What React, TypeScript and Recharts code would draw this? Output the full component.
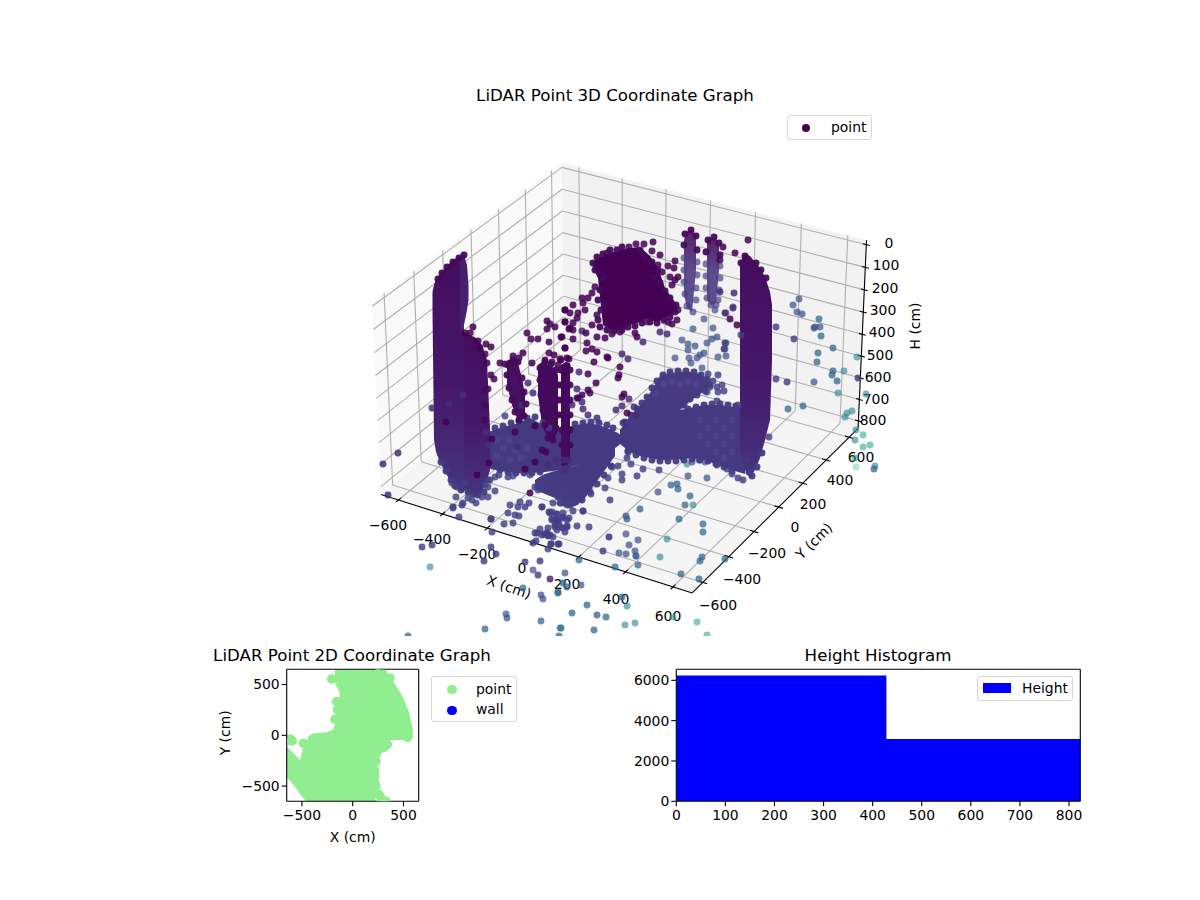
import {
  Area,
  ComposedChart,
  ReferenceDot,
  ReferenceLine,
  Scatter,
  XAxis,
  YAxis,
  ZAxis,
} from "recharts";

const FONT = "'DejaVu Sans', sans-serif";
const TICK = { fill: "#000", fontSize: 13.9 };

// 3D box: limits and ticks of the three axes
const xLim = [-680, 680];
const yLim = [-680, 680];
const hLim = [-20, 835];
const xTicks = [-600, -400, -200, 0, 200, 400, 600];
const yTicks = [-600, -400, -200, 0, 200, 400, 600];
const hTicks = [0, 100, 200, 300, 400, 500, 600, 700, 800];

// tick labels of the 3D axes, as placed on the projected plane
const xLabels: [string, number, number][] = [
  ["−600", 388, 525], ["−400", 432, 539], ["−200", 477, 554], ["0", 522, 568],
  ["200", 567, 584], ["400", 616, 599], ["600", 668, 616],
];
const yLabels: [string, number, number][] = [
  ["−600", 718, 605], ["−400", 742, 579], ["−200", 767, 553], ["0", 795, 527],
  ["200", 813, 504], ["400", 840, 480], ["600", 861, 457],
];
const hLabels: [string, number, number][] = [
  ["0", 889, 243], ["100", 886, 265], ["200", 885, 288], ["300", 883, 310], ["400", 882, 332],
  ["500", 880, 355], ["600", 878, 377], ["700", 876, 399], ["800", 873, 420],
];

// dense clouds on the projected plane: [x, top, bottom]
const wallLeft = [[432.5, 292, 310], [434, 285, 440], [436, 279, 452], [440, 274, 462], [445, 268, 472], [450, 263, 480], [455, 259, 486], [460, 256, 490], [464, 330, 492]];
const wallLeftUpper = [[460, 256, 340], [464, 255, 325], [467, 265, 310], [468.5, 285, 300]];
const columnTwo = [[463, 332, 490], [470, 335, 493], [476, 338, 497], [482, 345, 492], [487, 360, 480], [490, 430, 470]];
const columnThree = [[507, 362, 385], [512, 358, 405], [517, 360, 418], [522, 378, 420], [525, 395, 416]];
const columnFourA = [[538, 365, 395], [542, 362, 425], [548, 365, 440], [554, 368, 440], [558, 375, 430]];
const columnFourB = [[561, 365, 465], [566, 362, 468], [570, 365, 460]];
const bandLeft = [[488, 432, 468], [500, 428, 471], [515, 424, 473], [530, 418, 473], [545, 426, 472], [560, 430, 470], [575, 425, 466], [590, 423, 462], [605, 427, 455], [618, 433, 446], [623, 437, 441]];
const lobeLower = [[535, 480, 490], [545, 474, 494], [555, 471, 498], [565, 468, 502], [575, 466, 506], [585, 462, 498], [595, 456, 484], [605, 450, 470], [615, 444, 456]];
const bandRight = [[620, 430, 444], [630, 416, 452], [640, 406, 456], [650, 393, 458], [660, 376, 460], [670, 373, 460], [680, 372, 459]];
const lobeUpper = [[680, 372, 410], [690, 372, 401], [700, 374, 394], [708, 380, 388]];
const lobeRight = [[680, 410, 460], [690, 408, 458], [705, 405, 460], [720, 405, 466], [735, 407, 471], [745, 408, 474]];
const wallRight = [[740, 262, 450], [745, 254, 470], [750, 256, 478], [755, 262, 470], [760, 268, 458], [765, 277, 440], [770, 292, 420], [772, 305, 360]];
const topCluster = [[593, 262, 268], [598, 258, 278], [603, 255, 325], [610, 253, 330], [620, 250, 330], [630, 248, 325], [640, 247, 322], [650, 256, 320], [658, 268, 322], [665, 288, 318], [672, 298, 314], [677, 305, 310]];
const strandOne = [[684, 240, 295], [687, 232, 308], [692, 230, 312], [696, 235, 270]];
const strandTwo = [[707, 240, 300], [711, 238, 305], [716, 238, 303], [719, 245, 270]];

// single points on the projected plane, one list per colour
const darkPts = [
  [748, 240], [653, 242], [644, 244], [636, 244], [629, 247], [607, 253], [652, 251], [660, 255], [675, 261], [668, 266],
  [674, 268], [658, 265], [662, 272], [670, 277], [678, 277], [675, 280], [672, 285], [595, 287], [592, 293], [588, 298],
  [582, 298], [583, 303], [573, 305], [565, 310], [585, 310], [578, 313], [570, 313], [577, 318], [565, 322], [573, 323],
  [570, 328], [573, 330], [592, 325], [597, 315], [597, 337], [586, 333], [573, 339], [562, 337], [605, 338], [612, 334],
  [620, 332], [635, 333], [637, 337], [678, 310], [677, 320], [672, 324], [668, 322], [587, 343], [586, 351], [592, 349],
  [597, 352], [565, 348], [607, 357], [608, 358], [569, 359], [561, 360], [567, 366], [564, 372], [588, 374], [594, 362],
  [620, 367], [619, 375], [618, 378], [596, 383], [582, 395], [578, 398], [588, 390], [590, 393], [622, 397], [624, 394],
  [627, 413], [730, 319], [735, 253], [723, 247], [720, 260], [737, 325], [473, 327], [465, 333], [470, 333], [478, 341],
  [486, 344], [491, 347], [480, 348], [485, 354], [487, 363], [488, 389], [494, 379], [491, 375], [527, 333], [531, 339],
  [538, 339], [549, 342], [547, 321], [550, 324], [555, 327], [547, 329], [561, 337], [565, 310], [565, 322], [569, 329],
  [565, 348], [523, 353], [513, 356], [519, 358], [500, 363], [505, 364], [510, 363], [532, 363], [545, 360], [549, 353],
  [554, 355], [560, 359], [567, 358], [552, 362], [558, 365], [567, 366], [535, 426], [492, 439], [489, 463], [446, 422],
  [477, 475], [530, 493], [542, 450], [546, 452], [515, 432], [535, 462], [525, 469],
];
// scalloped outlines of the dark clusters
const darkEdge = [
  [593, 263], [597, 257], [603, 254], [610, 250], [617, 250], [622, 247], [595, 270], [603, 278], [600, 290], [598, 300],
  [601, 310], [598, 320], [600, 327], [607, 330], [614, 331], [622, 330], [628, 327], [635, 326], [642, 323], [650, 322],
  [657, 323], [664, 320], [670, 317], [675, 312], [676, 305], [670, 298], [665, 291], [660, 283], [655, 277], [658, 270],
  [652, 262], [645, 257], [640, 250], [464, 255], [459, 258], [453, 262], [447, 267], [442, 273], [438, 279],
  [508, 365], [513, 360], [518, 362], [507, 375], [522, 378], [509, 388], [524, 392], [512, 400], [526, 404], [515, 412],
  [524, 416], [519, 420], [540, 368], [545, 362], [551, 364], [556, 370], [540, 380], [558, 385], [541, 395], [558, 400],
  [543, 410], [558, 415], [545, 425], [556, 428], [548, 438], [553, 440], [561, 370], [570, 370], [561, 385], [570, 385],
  [561, 400], [570, 400], [562, 415], [570, 415], [562, 430], [570, 430], [562, 445], [570, 445], [685, 234], [691, 230],
  [696, 236], [708, 240], [714, 237], [719, 243], [684, 245], [697, 250], [706, 252], [720, 255], [745, 256], [741, 263],
  [756, 263], [761, 270], [766, 278], [485, 390], [485, 405], [485, 420],
];
const purplePts = [
  [643, 342], [660, 332], [667, 334], [628, 359], [622, 354], [579, 372], [647, 322], [582, 331], [577, 389], [577, 398],
  [582, 402], [572, 405], [583, 409], [588, 415], [597, 418], [629, 399], [634, 407], [622, 406], [616, 410], [636, 415],
  [623, 423], [734, 293], [733, 308], [725, 313], [720, 292], [528, 383], [533, 393], [463, 395], [522, 405], [449, 404],
  [432, 408], [398, 453], [383, 464], [388, 495], [517, 447], [555, 460], [548, 465], [565, 470], [609, 537], [550, 579],
  [563, 460], [569, 460], [566, 468], [486, 432], [488, 445],
];
// lighter strand dots, lit by the depth shading
const strandPts = [
  [684, 258], [697, 262], [684, 270], [697, 275], [684, 282], [696, 288], [685, 294], [696, 300], [687, 306], [693, 312],
  [706, 264], [720, 266], [706, 276], [720, 278], [706, 288], [719, 290], [707, 298], [718, 300], [711, 305], [716, 305],
];
const indigoPts = [
  [505, 416], [453, 507], [456, 497], [459, 517], [463, 503], [468, 498], [472, 500], [476, 503], [482, 497], [488, 497],
  [485, 485], [488, 487], [495, 491], [491, 519], [492, 532], [504, 524], [508, 513], [513, 523], [518, 507], [525, 507],
  [520, 502], [510, 505], [535, 487], [540, 481], [543, 479], [452, 483], [457, 487], [465, 483], [490, 480], [495, 477],
  [499, 475], [508, 477], [513, 476], [530, 475], [453, 508], [462, 505], [491, 519], [515, 515], [519, 516], [529, 503],
  [542, 507], [549, 512], [557, 514], [552, 520], [557, 521], [540, 529], [548, 528], [537, 533], [544, 534], [548, 536],
  [536, 541], [533, 543], [551, 544], [548, 549], [558, 544], [491, 547], [496, 554], [484, 561], [422, 547], [432, 545],
  [525, 562], [540, 561], [538, 575], [538, 490], [543, 485], [545, 478], [550, 478], [560, 488], [567, 493], [562, 497],
  [570, 500], [553, 503], [560, 503], [567, 505], [552, 512], [563, 513], [557, 520], [562, 518], [567, 520], [552, 519],
  [560, 527], [555, 527], [567, 527], [557, 530], [542, 507], [548, 535], [535, 533], [542, 535], [547, 533], [565, 532],
  [553, 537], [561, 503], [573, 511], [583, 511], [550, 513], [556, 514], [563, 517], [569, 518], [558, 521], [555, 525],
  [559, 524], [567, 526], [563, 528], [577, 526], [589, 527], [550, 535], [551, 544], [559, 544], [573, 503], [576, 502],
  [570, 501], [628, 452], [627, 458], [631, 464], [618, 466], [643, 469], [659, 470], [612, 467], [622, 474], [622, 480],
  [637, 476], [608, 478], [605, 488], [591, 494], [610, 500], [583, 511], [708, 374], [718, 375], [713, 381], [708, 383],
  [722, 385], [717, 387], [710, 387], [724, 391], [718, 392], [707, 392], [717, 401], [738, 405], [717, 465], [727, 469],
  [732, 474], [738, 478], [743, 480], [769, 437], [725, 343], [724, 349], [741, 335], [776, 327], [776, 379], [787, 382],
  [794, 339], [858, 378], [603, 551],
];
// scalloped outlines of the floor bands
const floorEdge = [
  [495, 428], [503, 426], [511, 423], [519, 421], [527, 418], [535, 417], [543, 423], [549, 428], [575, 424], [583, 423],
  [591, 422], [599, 423], [607, 425], [613, 428], [493, 466], [500, 470], [508, 472], [516, 473], [524, 473], [532, 473],
  [540, 472], [625, 422], [631, 415], [637, 409], [642, 403], [647, 397], [652, 388], [657, 381], [663, 375], [670, 372],
  [678, 371], [686, 371], [694, 372], [701, 375], [707, 379], [710, 385], [705, 391], [697, 395], [690, 399], [684, 405],
  [688, 409], [696, 407], [704, 405], [712, 404], [720, 404], [728, 405], [736, 406], [628, 451], [636, 455], [644, 458],
  [652, 460], [660, 461], [668, 461], [676, 461], [684, 460], [692, 459], [700, 460], [708, 461], [716, 464], [724, 467],
  [732, 471], [565, 503], [558, 497], [570, 505], [582, 500], [590, 492], [597, 484], [604, 475], [611, 466], [441, 462],
  [446, 471], [451, 480], [455, 486], [461, 490], [468, 492], [473, 494], [478, 495], [484, 492], [488, 480], [746, 460],
  [749, 472], [752, 476], [757, 467], [762, 453],
];
// lighter dots that show through the floor bands
const floorGlint = [
  [497, 440], [503, 448], [509, 440], [515, 450], [521, 458], [497, 456], [510, 460], [527, 448], [700, 420], [708, 428],
  [716, 420], [724, 428], [732, 420], [700, 436], [708, 444], [716, 436], [724, 444], [732, 436], [716, 452], [724, 458],
  [732, 452], [664, 384], [672, 382], [680, 384], [688, 382], [696, 384], [656, 394],
];
const bluePts = [
  [704, 319], [693, 329], [713, 328], [715, 310], [726, 313], [733, 307], [682, 340], [688, 344], [695, 346], [707, 343],
  [712, 339], [717, 337], [726, 343], [725, 349], [688, 350], [704, 353], [700, 355], [697, 358], [689, 358], [691, 363],
  [718, 357], [726, 356], [675, 358], [702, 368], [658, 492], [688, 476], [707, 478], [692, 462], [699, 460], [705, 462],
  [799, 299], [793, 305], [797, 312], [802, 314], [814, 382], [815, 327], [814, 328], [820, 327], [533, 570], [507, 618],
  [543, 599], [541, 595], [626, 516], [627, 519], [640, 509], [626, 534], [638, 540], [629, 545], [635, 551], [619, 553],
  [626, 554], [636, 556], [565, 573], [581, 585], [597, 615],
];
const steelPts = [
  [819, 319], [821, 336], [833, 348], [818, 353], [817, 362], [833, 371], [832, 375], [837, 381], [788, 409], [803, 406],
  [690, 496], [677, 484], [671, 485], [678, 489], [685, 505], [679, 519], [703, 524], [703, 532], [638, 565], [615, 567],
  [579, 560], [563, 583], [567, 587], [558, 592], [523, 588], [558, 593], [506, 614], [572, 613], [606, 617], [587, 605],
  [702, 557], [700, 561], [725, 559], [681, 574], [699, 579], [622, 597], [485, 629], [541, 621], [561, 628], [594, 630],
  [874, 469], [408, 636], [559, 636],
];
const tealPts = [
  [857, 357], [844, 371], [838, 393], [866, 394], [852, 411], [847, 413], [845, 417], [856, 430], [855, 440], [693, 505],
  [687, 464], [667, 539], [660, 557], [636, 556], [430, 567], [627, 606], [625, 625], [635, 623], [560, 628], [875, 466],
];
const greenPts = [[863, 435], [870, 445], [863, 447], [855, 458], [673, 617], [697, 622], [707, 635]];
const mintPts = [[856, 467]];

// 2D panel, in cm: [X, lowest Y, highest Y]
const footMain = [[-650, -414, -112], [-568, -506, -190], [-519, -578, -243], [-500, -600, -170], [-486, -621, -112], [-460, -650, -80], [-437, -650, -13], [-388, -650, 20], [-256, -650, 30], [-190, -650, 59], [-158, -650, 190], [-131, -650, 381], [-108, -650, 650], [225, -650, 650]];
const footRight = [[220, -300, 650], [250, -230, 630], [269, -210, 611], [319, -128, 611], [351, -53, 594], [401, -46, 529], [483, -46, 397], [548, -46, 250], [591, -30, 69]];
const footLeft = [[-650, -90, 3], [-601, -100, 10], [-552, -85, -30]];
const footTop = [[-175, 520, 650], [-108, 380, 650]];
const footEdge = [[-207, 555], [368, 562], [-158, 332], [-174, 158], [-601, -56], [-486, -79], [309, -118], [230, -259], [213, -447], [253, -578], [328, -650], [-120, 520], [-150, 250], [250, 610], [300, 600], [540, -20], [220, -350], [230, -500], [270, -600], [215, -400], [290, -640], [340, -90]];
const wallPoints: number[][] = [];
const footTicks = [-500, 0, 500];

// histogram
const histEdges = [0, 428, 823];
const histCounts = [6235, 3090, 3090];
const histXTicks = [0, 100, 200, 300, 400, 500, 600, 700, 800];
const histYTicks = [0, 2000, 4000, 6000];

// perspective view of the box (camera as in the usual elev 30 / azim -60 view)
const boxHalf = [0.5714, 0.5714, 0.36];
function project(x: number, y: number, h: number) {
  const a = ((x - xLim[0]) / (xLim[1] - xLim[0]) - 0.5) * 2 * boxHalf[0];
  const b = ((y - yLim[0]) / (yLim[1] - yLim[0]) - 0.5) * 2 * boxHalf[1];
  const c = ((hLim[1] - h) / (hLim[1] - hLim[0]) - 0.5) * 2 * boxHalf[2];
  const u = 0.866 * a + 0.5 * b;
  const v = -0.25 * a + 0.433 * b + 0.866 * c;
  const d = 10 - (0.433 * a - 0.75 * b + 0.5 * c);
  return { x: 623.8 + (3110 * u) / d, y: 367.3 - (3055 * v) / d };
}

function seg(p: { x: number; y: number }, q: { x: number; y: number }) {
  return [p, q] as [{ x: number; y: number }, { x: number; y: number }];
}

const [x0, x1] = xLim;
const [y0, y1] = yLim;
const hTop = hLim[0];
const hBot = hLim[1];

const gridSegs = [
  ...xTicks.flatMap((t) => [seg(project(t, y0, hBot), project(t, y1, hBot)), seg(project(t, y1, hBot), project(t, y1, hTop))]),
  ...yTicks.flatMap((t) => [seg(project(x0, t, hBot), project(x1, t, hBot)), seg(project(x0, t, hBot), project(x0, t, hTop))]),
  ...hTicks.flatMap((t) => [seg(project(x0, y0, t), project(x0, y1, t)), seg(project(x0, y1, t), project(x1, y1, t))]),
];
const axisSegs = [
  seg(project(x0, y0, hBot), project(x1, y0, hBot)),
  seg(project(x1, y0, hBot), project(x1, y1, hBot)),
  seg(project(x1, y1, hBot), project(x1, y1, hTop)),
  ...xTicks.map((t) => seg(project(t, y0 - 18, hBot), project(t, y0 + 18, hBot))),
  ...yTicks.map((t) => seg(project(x1 - 18, t, hBot), project(x1 + 18, t, hBot))),
  ...hTicks.map((t) => seg(project(x1 - 15, y1, t), project(x1 + 15, y1, t))),
];

// cut a convex outline into [x, low, high] rows for a range Area
function paneRows(poly: { x: number; y: number }[]) {
  const xs = [...new Set(poly.map((p) => p.x))].sort((a, b) => a - b);
  return xs.map((x) => {
    const hits: number[] = [];
    poly.forEach((p, i) => {
      const q = poly[(i + 1) % poly.length];
      if ((p.x - x) * (q.x - x) <= 0) {
        hits.push(p.x === q.x ? p.y : p.y + ((q.y - p.y) * (x - p.x)) / (q.x - p.x));
      }
    });
    return { x, band: [Math.min(...hits), Math.max(...hits)] };
  });
}

const paneLeft = paneRows([project(x0, y0, hTop), project(x0, y1, hTop), project(x0, y1, hBot), project(x0, y0, hBot)]);
const paneRight = paneRows([project(x0, y1, hTop), project(x1, y1, hTop), project(x1, y1, hBot), project(x0, y1, hBot)]);
const paneFloor = paneRows([project(x0, y0, hBot), project(x1, y0, hBot), project(x1, y1, hBot), project(x0, y1, hBot)]);

const bandRows = (rows: number[][]) => rows.map(([x, a, b]) => ({ x, band: [a, b] }));
const ptRows = (rows: number[][]) => rows.map(([x, y]) => ({ x, y }));

const CHART_W = 1200;
const CHART_H = 636;

const SMALL_AXIS = { stroke: "#000", strokeWidth: 1.1 };
const minus = (v: number) => String(v).replace("-", "−");

function BoxFrame() {
  return (
    <ComposedChart width={CHART_W} height={CHART_H} margin={{ top: 0, right: 0, bottom: 0, left: 0 }}>
      <XAxis type="number" dataKey="x" domain={[0, CHART_W]} hide />
      <YAxis type="number" domain={[0, CHART_H]} reversed hide />
      <Area data={paneLeft} dataKey="band" fill="#f9f9f9" fillOpacity={1} stroke="none" dot={false} activeDot={false} isAnimationActive={false} />
      <Area data={paneRight} dataKey="band" fill="#f2f2f2" fillOpacity={1} stroke="none" dot={false} activeDot={false} isAnimationActive={false} />
      <Area data={paneFloor} dataKey="band" fill="#f5f5f5" fillOpacity={1} stroke="none" dot={false} activeDot={false} isAnimationActive={false} />
      {gridSegs.map((s, i) => (
        <ReferenceLine key={"g" + i} segment={s} stroke="#b0b0b0" strokeWidth={1.1} />
      ))}
      {axisSegs.map((s, i) => (
        <ReferenceLine key={"a" + i} segment={s} stroke="#000" strokeWidth={1.1} />
      ))}
      {[...xLabels, ...yLabels, ...hLabels].map(([t, x, y]) => (
        <ReferenceDot key={t + x} x={x} y={y} r={0} fill="none" stroke="none" label={{ value: t, position: "center", fontSize: 13.9, fill: "#000" }} />
      ))}
      <ReferenceDot x={509} y={587} r={0} fill="none" stroke="none" label={{ value: "X (cm)", position: "center", fontSize: 13.9, fill: "#000", angle: 19 }} />
      <ReferenceDot x={814} y={541} r={0} fill="none" stroke="none" label={{ value: "Y (cm)", position: "center", fontSize: 13.9, fill: "#000", angle: -45 }} />
      <ReferenceDot x={915} y={326} r={0} fill="none" stroke="none" label={{ value: "H (cm)", position: "center", fontSize: 13.9, fill: "#000", angle: -90 }} />
    </ComposedChart>
  );
}

function BoxCloud() {
  const area = (rows: number[][], fill: string, key: string, opacity = 1) => (
    <Area key={key} data={bandRows(rows)} dataKey="band" fill={fill} fillOpacity={opacity} stroke="none" dot={false} activeDot={false} isAnimationActive={false} />
  );
  const dots = (rows: number[][], fill: string, opacity: number) => (
    <Scatter data={ptRows(rows)} dataKey="y" fill={fill} fillOpacity={opacity} isAnimationActive={false} />
  );
  return (
    <ComposedChart width={CHART_W} height={CHART_H} margin={{ top: 0, right: 0, bottom: 0, left: 0 }}>
      <defs>
        <linearGradient id="wallFill" x1="0" y1="0" x2="0" y2="1">
          <stop offset="0%" stopColor="#440d5e" />
          <stop offset="55%" stopColor="#45176a" />
          <stop offset="100%" stopColor="#45357f" />
        </linearGradient>
        <linearGradient id="strandFill" x1="0" y1="0" x2="0" y2="1">
          <stop offset="0%" stopColor="#440a5a" />
          <stop offset="50%" stopColor="#4d3b80" />
          <stop offset="100%" stopColor="#4c3d85" />
        </linearGradient>
      </defs>
      <XAxis type="number" dataKey="x" domain={[0, CHART_W]} hide />
      <YAxis type="number" dataKey="y" domain={[0, CHART_H]} reversed hide />
      <ZAxis range={[38, 38]} />
      {area(bandLeft, "#453a82", "bandLeft")}
      {area(lobeLower, "#453a82", "lobeLower")}
      {area(bandRight, "#453a82", "bandRight")}
      {area(lobeUpper, "#48397f", "lobeUpper")}
      {area(lobeRight, "#453a82", "lobeRight")}
      {area(topCluster, "#440154", "topCluster")}
      {area(strandOne, "url(#strandFill)", "strandOne", 0.9)}
      {area(strandTwo, "url(#strandFill)", "strandTwo", 0.9)}
      {area(columnThree, "#470f5f", "columnThree")}
      {area(columnFourA, "#450a5c", "columnFourA")}
      {area(columnFourB, "#450a5c", "columnFourB")}
      {area(columnTwo, "url(#wallFill)", "columnTwo")}
      {area(wallLeft, "url(#wallFill)", "wallLeft")}
      {area(wallLeftUpper, "#46206f", "wallLeftUpper")}
      {area(wallRight, "url(#wallFill)", "wallRight")}
      {dots(mintPts, "#35b779", 0.35)}
      {dots(greenPts, "#1f9e89", 0.55)}
      {dots(tealPts, "#26828e", 0.6)}
      {dots(steelPts, "#31688e", 0.75)}
      {dots(bluePts, "#3b528b", 0.72)}
      {dots(floorEdge, "#453a82", 0.95)}
      {dots(floorGlint, "#5f5596", 0.3)}
      {dots(indigoPts, "#433e85", 0.82)}
      {dots(strandPts, "#4a3f86", 0.7)}
      {dots(purplePts, "#472d7b", 0.85)}
      {dots(darkPts, "#440154", 0.85)}
      {dots(darkEdge, "#440a5c", 0.95)}
    </ComposedChart>
  );
}

function LegendBox({ left, top, width, height, children }: { left: number; top: number; width: number; height: number; children: React.ReactNode }) {
  return (
    <div style={{ position: "absolute", left, top, width, height, boxSizing: "border-box", background: "rgba(255,255,255,0.8)", border: "1px solid #d5d5d5", borderRadius: 3 }}>
      {children}
    </div>
  );
}

function LegendDot({ x, y, r, color }: { x: number; y: number; r: number; color: string }) {
  return <div style={{ position: "absolute", left: x - r, top: y - r, width: 2 * r, height: 2 * r, borderRadius: "50%", background: color }} />;
}

function LegendText({ x, y, text }: { x: number; y: number; text: string }) {
  return <div style={{ position: "absolute", left: x, top: y - 9, fontSize: 13.9, lineHeight: "18px", color: "#000" }}>{text}</div>;
}

function Title({ center, top, text }: { center: number; top: number; text: string }) {
  return (
    <div style={{ position: "absolute", left: center - 200, top, width: 400, textAlign: "center", fontSize: 16.67, lineHeight: "20px", color: "#000" }}>
      {text}
    </div>
  );
}

function FootPanel() {
  const areaProps = { dataKey: "band", fill: "#90ee90", fillOpacity: 1, stroke: "none", dot: false, activeDot: false, isAnimationActive: false };
  return (
    <ComposedChart width={240} height={210} margin={{ top: 29.3, right: 21.3, bottom: 18.7, left: 26.7 }}>
      <XAxis type="number" dataKey="x" domain={[-650, 650]} ticks={footTicks} tick={{ ...TICK, dy: 2 }} tickFormatter={minus} tickSize={5} axisLine={SMALL_AXIS} tickLine={SMALL_AXIS} height={30} allowDataOverflow
        label={{ value: "X (cm)", position: "bottom", offset: 1, fontSize: 13.9, fill: "#000" }} />
      <YAxis type="number" dataKey="y" domain={[-650, 650]} ticks={footTicks} tick={TICK} tickFormatter={minus} tickSize={5} axisLine={SMALL_AXIS} tickLine={SMALL_AXIS} width={60} allowDataOverflow
        label={{ value: "Y (cm)", position: "insideLeft", angle: -90, offset: -2, fontSize: 13.9, fill: "#000", dy: 20 }} />
      <ZAxis range={[72, 72]} />
      <Area {...areaProps} data={bandRows(footMain)} />
      <Area {...areaProps} data={bandRows(footRight)} />
      <Area {...areaProps} data={bandRows(footLeft)} />
      <Area {...areaProps} data={bandRows(footTop)} />
      <Scatter name="point" data={ptRows(footEdge)} dataKey="y" fill="#90ee90" isAnimationActive={false} />
      <Scatter name="wall" data={ptRows(wallPoints)} dataKey="y" fill="#0000ff" isAnimationActive={false} />
      <ReferenceLine y={650} stroke="#000" strokeWidth={1.1} />
      <ReferenceLine x={650} stroke="#000" strokeWidth={1.1} />
    </ComposedChart>
  );
}

function HistPanel() {
  const rows = histEdges.map((edge, i) => ({ edge, count: histCounts[i] }));
  return (
    <ComposedChart width={490} height={210} data={rows} margin={{ top: 29.3, right: 19.7, bottom: 18.7, left: 6.3 }}>
      <XAxis type="number" dataKey="edge" domain={[0, 823]} ticks={histXTicks} tick={{ ...TICK, dy: 2 }} tickSize={5} axisLine={SMALL_AXIS} tickLine={SMALL_AXIS} height={30} allowDataOverflow />
      <YAxis type="number" domain={[0, 6547]} ticks={histYTicks} tick={TICK} tickSize={5} axisLine={SMALL_AXIS} tickLine={SMALL_AXIS} width={60} allowDataOverflow />
      <Area type="stepAfter" dataKey="count" fill="#0000ff" fillOpacity={1} stroke="none" dot={false} activeDot={false} isAnimationActive={false} />
      <ReferenceLine y={6547} stroke="#000" strokeWidth={1.1} />
      <ReferenceLine x={823} stroke="#000" strokeWidth={1.1} />
    </ComposedChart>
  );
}

export default function App() {
  return (
    <div style={{ position: "absolute", left: 0, top: 0, width: 1200, height: 900, background: "#fff", fontFamily: FONT, overflow: "hidden" }}>
      <div style={{ position: "absolute", left: 0, top: 0 }}><BoxFrame /></div>
      <div style={{ position: "absolute", left: 0, top: 0 }}><BoxCloud /></div>
      <Title center={615} top={86} text="LiDAR Point 3D Coordinate Graph" />
      <LegendBox left={787} top={115} width={85} height={25}>
        <LegendDot x={18} y={12} r={4.2} color="#440154" />
        <LegendText x={43} y={11} text="point" />
      </LegendBox>

      <div style={{ position: "absolute", left: 200, top: 640 }}><FootPanel /></div>
      <Title center={352} top={646} text="LiDAR Point 2D Coordinate Graph" />
      <LegendBox left={431} top={676} width={86} height={46}>
        <LegendDot x={20} y={12.5} r={4.8} color="#90ee90" />
        <LegendDot x={20} y={33.5} r={4.8} color="#0000ff" />
        <LegendText x={44} y={11.5} text="point" />
        <LegendText x={44} y={32} text="wall" />
      </LegendBox>

      <div style={{ position: "absolute", left: 610, top: 640 }}><HistPanel /></div>
      <Title center={878} top={646} text="Height Histogram" />
      <LegendBox left={977} top={676} width={96} height={25}>
        <div style={{ position: "absolute", left: 5, top: 6, width: 28, height: 10, background: "#0000ff" }} />
        <LegendText x={44} y={11} text="Height" />
      </LegendBox>
    </div>
  );
}
